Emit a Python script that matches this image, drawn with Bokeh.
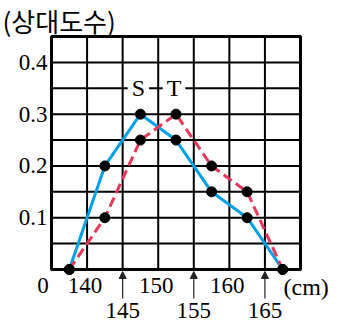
from bokeh.plotting import figure
from bokeh.models import Arrow, NormalHead, ColumnDataSource, Label
from bokeh.core.properties import value
from bokeh.embed import file_html
from bokeh.resources import INLINE

# ---- data ----
x_mid = [137.5, 142.5, 147.5, 152.5, 157.5, 162.5, 167.5]
s_freq = [0, 0.2, 0.3, 0.25, 0.15, 0.1, 0]
t_freq = [0, 0.1, 0.25, 0.3, 0.2, 0.15, 0]
x_grid = [135, 140, 145, 150, 155, 160, 165, 170]
y_grid = [0, 0.05, 0.1, 0.15, 0.2, 0.25, 0.3, 0.35, 0.4, 0.45]
y_ticks = [0.1, 0.2, 0.3, 0.4]
y_tick_labels = ["0.1", "0.2", "0.3", "0.4"]
x_upper = [140, 150, 160]
x_upper_labels = ["140", "150", "160"]
x_lower = [145, 155, 165]
x_lower_labels = ["145", "155", "165"]

W, H = 338, 322
fl, fr, ft, fb = 51, 300, 36, 269  # pixel box of the grid area
x0, x1 = x_grid[0], x_grid[-1]
y0, y1 = y_grid[0], y_grid[-1]
sx = (fr - fl) / (x1 - x0)
sy = (fb - ft) / (y1 - y0)
xr = (x0 - fl / sx, x1 + (W - fr) / sx)
yr = (y0 - (H - fb) / sy, y1 + ft / sy)
px = 1.0 / sy

p = figure(width=W, height=H, x_range=xr, y_range=yr, x_axis_type=None, y_axis_type=None,
           toolbar_location=None, output_backend="svg", min_border=0,
           outline_line_color=None, background_fill_color="white", border_fill_color="white")

# grid
p.segment(x0=x_grid, y0=[y0] * len(x_grid), x1=x_grid, y1=[y1] * len(x_grid),
          line_color="black", line_width=2)
p.segment(x0=[x0] * len(y_grid), y0=y_grid, x1=[x1] * len(y_grid), y1=y_grid,
          line_color="black", line_width=2)
p.quad(left=[x0], right=[x1], bottom=[y0], top=[y1], fill_alpha=0, line_color="black", line_width=3)

SERIF = "Liberation Serif, DejaVu Serif, serif"
serif = value(SERIF)

# y tick labels
p.text(x=[x0] * len(y_ticks), y=y_ticks, text=y_tick_labels, x_offset=-4, text_align="right",
       text_baseline="middle", text_font=serif, text_font_size="23px", text_color="black")
# origin 0
p.text(x=[x0], y=[y0], text=["0"], x_offset=-8.5, y_offset=16, text_align="center",
       text_baseline="middle", text_font=serif, text_font_size="23px", text_color="black")
# x upper labels
p.text(x=x_upper, y=[y0] * len(x_upper), text=x_upper_labels, x_offset=-2, y_offset=16, text_align="center",
       text_baseline="middle", text_font=serif, text_font_size="23px", text_color="black")
# x lower labels
p.text(x=x_lower, y=[y0] * len(x_lower), text=x_lower_labels, y_offset=41, text_align="center",
       text_baseline="middle", text_font=serif, text_font_size="23px", text_color="black")
# unit
p.text(x=[x1], y=[y0], text=["(cm)"], x_offset=-17, y_offset=17, text_align="left",
       text_baseline="middle", text_font=serif, text_font_size="24px", text_color="black")
# title
p.text(x=[x0], y=[y1], text=["(상대도수)"], x_offset=-49, y_offset=-16, text_align="left",
       text_baseline="middle", text_font=value("Noto Sans CJK KR"), text_font_size="26px",
       text_color="black")

# arrows
arr_src = ColumnDataSource(dict(xs=x_lower, ys=[y0 - 29 * px] * len(x_lower), ye=[y0 - 2 * px] * len(x_lower)))
p.add_layout(Arrow(end=NormalHead(size=7, fill_color="#222222", line_color="#222222"),
                   x_start="xs", y_start="ys", x_end="xs", y_end="ye", source=arr_src,
                   line_color="#222222", line_width=1.2))

# polygons
p.line(x_mid, s_freq, line_color="#00a0e9", line_width=3)
p.line(x_mid, t_freq, line_color="#e8385a", line_width=3, line_dash="10 5")
p.scatter(x_mid, s_freq, size=10, color="black")
p.scatter(x_mid, t_freq, size=10, color="black")

# series labels
s_peak = max(range(len(s_freq)), key=lambda i: s_freq[i])
t_peak = max(range(len(t_freq)), key=lambda i: t_freq[i])
for name, i, fr_ in (("S", s_peak, s_freq), ("T", t_peak, t_freq)):
    p.add_layout(Label(x=x_mid[i], y=fr_[i] + 0.05, text=name, x_offset=-2, text_align="center",
                       text_baseline="middle", text_font=SERIF, text_font_size="24px",
                       text_color="black", background_fill_color="white", padding=4))

open("out.html", "w").write(file_html(p, INLINE))
